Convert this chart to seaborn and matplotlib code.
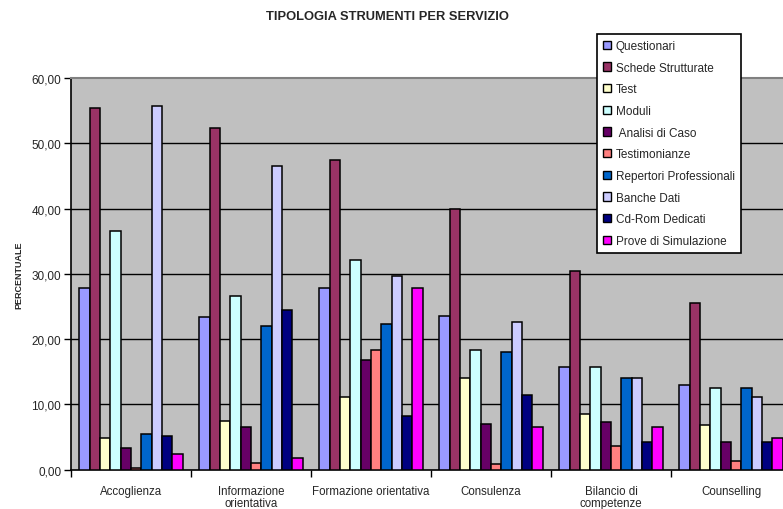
import matplotlib
matplotlib.use("Agg")
import matplotlib.pyplot as plt
from matplotlib.patches import Patch
from matplotlib.ticker import FixedLocator, FuncFormatter
import seaborn as sns
import pandas as pd

servizi = ["Accoglienza", "Informazione\norientativa", "Formazione orientativa",
           "Consulenza", "Bilancio di\ncompetenze", "Counselling"]

strumenti = ["Questionari", "Schede Strutturate", "Test", "Moduli", " Analisi di Caso",
             "Testimonianze", "Repertori Professionali", "Banche Dati",
             "Cd-Rom Dedicati", "Prove di Simulazione"]

colori = ["#9999FF", "#993366", "#FFFFCC", "#CCFFFF", "#660066",
          "#FF8080", "#0066CC", "#CCCCFF", "#000080", "#FF00FF"]

# percentuali per servizio, nell'ordine di "strumenti"
questionari = [27.8, 23.4, 27.8, 23.5, 15.8, 13.0]
schede_strutturate = [55.4, 52.3, 47.4, 40.0, 30.5, 25.6]
test = [4.8, 7.5, 11.2, 14.0, 8.5, 6.9]
moduli = [36.6, 26.6, 32.1, 18.3, 15.8, 12.5]
analisi_di_caso = [3.3, 6.6, 16.8, 7.0, 7.3, 4.2]
testimonianze = [0.3, 1.1, 18.4, 0.8, 3.6, 1.4]
repertori_professionali = [5.5, 22.0, 22.3, 18.0, 14.0, 12.5]
banche_dati = [55.7, 46.5, 29.6, 22.6, 14.0, 11.2]
cd_rom_dedicati = [5.1, 24.5, 8.2, 11.5, 4.2, 4.2]
prove_di_simulazione = [2.4, 1.8, 27.8, 6.6, 6.6, 4.8]

serie = [questionari, schede_strutturate, test, moduli, analisi_di_caso,
         testimonianze, repertori_professionali, banche_dati,
         cd_rom_dedicati, prove_di_simulazione]

righe = []
for nome, valori in zip(strumenti, serie):
    for servizio, v in zip(servizi, valori):
        righe.append({"servizio": servizio, "strumento": nome, "valore": v})
df = pd.DataFrame(righe)

sns.set_style("white")
plt.rcParams["font.family"] = ["Liberation Sans", "DejaVu Sans"]

W, H = 783, 510
fig = plt.figure(figsize=(W / 100, H / 100), dpi=100)
fig.patch.set_facecolor("white")
ax = fig.add_axes([71 / W, (H - 470.7) / H, (791 - 71) / W, (470.7 - 79) / H])
ax.set_facecolor("#C0C0C0")

sns.barplot(data=df, x="servizio", y="valore", hue="strumento",
            order=servizi, hue_order=strumenti, palette=colori,
            width=0.86, edgecolor="black", linewidth=1.1,
            saturation=1, legend=False, ax=ax, zorder=3)

ax.set_xlim(-0.5, len(servizi) - 0.5)
ax.set_ylim(0, 60)

# horizontal gridlines
for yv in range(10, 60, 10):
    ax.axhline(yv, color="black", linewidth=1.0, zorder=1)

ax.set_yticks(range(0, 61, 10))
ax.yaxis.set_major_formatter(FuncFormatter(lambda v, p: f"{v:.2f}".replace(".", ",")))
ax.tick_params(axis="y", direction="out", length=5, width=1, color="black",
               labelsize=8.5, pad=2, left=True)

# category boundaries as tick marks, names centred under the groups
ax.xaxis.set_major_locator(FixedLocator([i + 0.5 for i in range(-1, len(servizi))]))
ax.xaxis.set_major_formatter(FuncFormatter(lambda v, p: ""))
ax.set_xticks(range(len(servizi)), labels=servizi, minor=True)
ax.tick_params(axis="x", which="major", direction="out", length=5, width=1,
               color="black", bottom=True)
ax.tick_params(axis="x", which="minor", length=0, labelsize=8.3, pad=11)
for lab in ax.get_xticklabels(minor=True):
    lab.set_linespacing(1.05)

ax.set_xlabel("")
ax.set_ylabel("PERCENTUALE", fontsize=6.5, fontweight="bold", labelpad=6)

for s in ["left", "bottom"]:
    ax.spines[s].set_color("black")
    ax.spines[s].set_linewidth(1.2)
ax.spines["top"].set_color("#808080")
ax.spines["top"].set_linewidth(1.5)
ax.spines["right"].set_visible(False)

fig.text(387 / W, 1 - 17 / H, "TIPOLOGIA STRUMENTI PER SERVIZIO",
         ha="center", va="center", fontsize=9.3, fontweight="bold")

handles = [Patch(facecolor=c, edgecolor="black", linewidth=1.0) for c in colori]
leg = fig.legend(handles, strumenti, loc="upper left",
                 bbox_to_anchor=(597 / W, 1 - 35 / H), bbox_transform=fig.transFigure,
                 fontsize=8.5, frameon=True, fancybox=False, shadow=False, framealpha=1,
                 handlelength=0.7, handleheight=0.7, handletextpad=0.4,
                 labelspacing=0.82, borderpad=0.5, borderaxespad=0)
leg.get_frame().set_edgecolor("black")
leg.get_frame().set_linewidth(1.2)
leg.get_frame().set_facecolor("white")
leg.set_zorder(10)

fig.savefig("out.png", dpi=100)
